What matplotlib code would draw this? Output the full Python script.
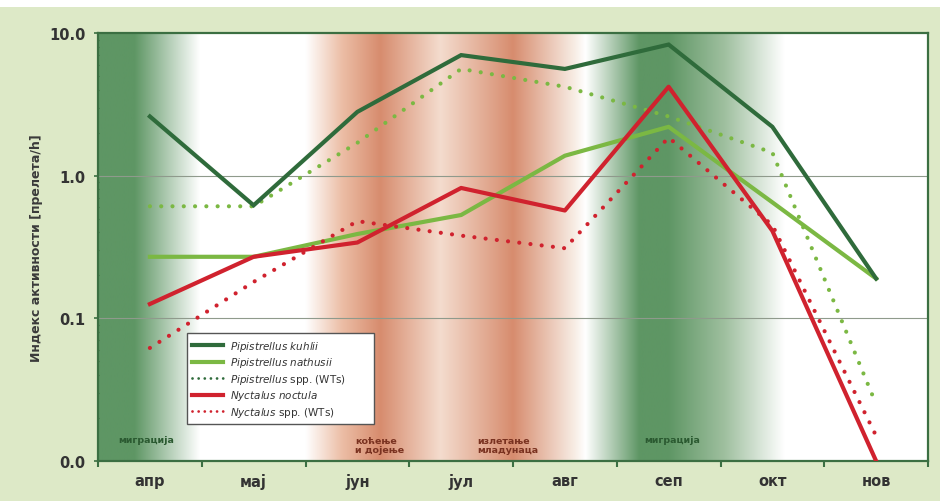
import numpy as np
import matplotlib
matplotlib.use("Agg")
import matplotlib.pyplot as plt
from matplotlib.lines import Line2D

# Monthly activity index (passes per hour), log scale
months = ["апр", "мај", "јун", "јул", "авг", "сеп", "окт", "нов"]
kuhlii = [2.6, 0.62, 2.8, 7.0, 5.6, 8.3, 2.2, 0.19]
nathusii = [0.27, 0.27, 0.39, 0.53, 1.38, 2.2, 0.65, 0.19]
pipistrellus_wts = [0.61, 0.61, 1.7, 5.6, 4.2, 2.6, 1.45, 0.025]
noctula = [0.126, 0.27, 0.34, 0.82, 0.57, 4.2, 0.41, 0.01]
nyctalus_wts = [0.062, 0.18, 0.48, 0.38, 0.31, 1.85, 0.45, 0.015]

y_ticks = [0.01, 0.1, 1, 10]
y_ticklabels = ["0.0", "0.1", "1.0", "10.0"]

plt.rcParams["font.family"] = ["DejaVu Sans"]

BG = "#dde9c7"
FRAME = "#3b6f42"
DARK_GREEN = "#2f6b3b"
LIGHT_GREEN = "#7bb843"
RED = "#d0222e"
TEXT = "#333333"

fig = plt.figure(figsize=(9.4, 5.02), dpi=100, facecolor=BG)
# thin white strip along the top edge
fig.patches.append(plt.Rectangle((0, 1 - 8 / 502), 1, 8 / 502, transform=fig.transFigure,
                                 facecolor="white", edgecolor="none", zorder=0))

ax = fig.add_axes([98 / 940, 1 - 462 / 502, 830 / 940, 428 / 502])
ax.set_facecolor("white")

x = np.arange(len(months))
ax.set_xlim(-0.5, len(months) - 0.5)
ax.set_yscale("log")
ax.set_ylim(0.01, 10)

# seasonal background bands (migration = green, breeding = salmon)
green = np.array([94, 150, 100]) / 255
mid_green = np.array([160, 192, 160]) / 255
white = np.array([255, 255, 255]) / 255
salmon = np.array([215, 140, 110]) / 255
light_salmon = np.array([236, 190, 166]) / 255
pale = np.array([244, 220, 206]) / 255
faint = np.array([248, 238, 230]) / 255
stops = [(-0.5, green), (-0.15, green), (0.48, white), (1.5, white),
         (1.85, light_salmon), (2.22, salmon), (2.8, pale), (3.5, salmon),
         (4.1, faint), (4.2, white), (4.72, green), (5.0, green),
         (5.55, mid_green), (6.12, white), (7.5, white)]
sx = np.array([s[0] for s in stops])
sc = np.array([s[1] for s in stops])
grid_x = np.linspace(-0.5, 7.5, 1200)
img = np.stack([np.interp(grid_x, sx, sc[:, k]) for k in range(3)], axis=-1)[None, :, :]
ax.imshow(img, extent=[0, 1, 0, 1], transform=ax.transAxes, aspect="auto",
          interpolation="bilinear", zorder=0)

# horizontal grid lines at the decades
for v in (0.1, 1):
    ax.axhline(v, color="#8f9a8c", lw=0.8, zorder=1)

lw = 3.0
dot = (0, (0.01, 2.7))
ax.plot(x, kuhlii, color=DARK_GREEN, lw=lw, solid_joinstyle="miter", zorder=4)
ax.plot(x, nathusii, color=LIGHT_GREEN, lw=lw, zorder=3)
ax.plot(x, pipistrellus_wts, color=LIGHT_GREEN, lw=lw, linestyle=dot,
        dash_capstyle="round", zorder=3)
ax.plot(x, noctula, color=RED, lw=lw, zorder=5)
ax.plot(x, nyctalus_wts, color=RED, lw=lw, linestyle=dot,
        dash_capstyle="round", zorder=5)

# axes styling
for sp in ax.spines.values():
    sp.set_color(FRAME)
    sp.set_linewidth(1.6)
ax.set_xticks(x)
ax.set_xticklabels(months, fontsize=10.5, fontweight="bold", color=TEXT)
ax.set_xticks(np.arange(-0.5, len(months)), minor=True)
ax.tick_params(axis="x", which="major", length=0, pad=9)
ax.tick_params(axis="x", which="minor", length=4, width=1.5, color=FRAME, direction="out")
ax.set_yticks(y_ticks)
ax.set_yticklabels(y_ticklabels, fontsize=10.5, fontweight="bold", color=TEXT)
ax.tick_params(axis="y", which="major", length=3, width=1.2, color=FRAME, pad=6)
ax.tick_params(axis="y", which="minor", length=2, width=0.8, color=FRAME, direction="inout")
ax.set_ylabel("Индекс активности [прелета/h]", fontsize=9, color="#3a3a3a",
              fontweight="semibold")
ax.yaxis.set_label_coords(-0.066, 0.5)

# season annotations
ann = dict(transform=ax.get_xaxis_transform(), fontsize=6.8, fontweight="semibold")
ax.text(-0.04, 0.051, "миграција", color="#2b5a31", ha="center", va="center", **ann)
ax.text(5.03, 0.051, "миграција", color="#2b5a31", ha="center", va="center", **ann)
ax.text(1.98, 0.037, "коћење\nи дојење", color="#7a3220", ha="left", va="center",
        linespacing=1.05, **ann)
ax.text(3.16, 0.037, "излетање\nмладунаца", color="#7a3220", ha="left", va="center",
        linespacing=1.05, **ann)

# legend
handles = [
    Line2D([], [], color=DARK_GREEN, lw=lw),
    Line2D([], [], color=LIGHT_GREEN, lw=lw),
    Line2D([], [], color=DARK_GREEN, lw=2, linestyle=(0, (0.01, 2.2)), dash_capstyle="round"),
    Line2D([], [], color=RED, lw=lw),
    Line2D([], [], color=RED, lw=2, linestyle=(0, (0.01, 2.2)), dash_capstyle="round"),
]
labels = [
    r"$\it{Pipistrellus\ kuhlii}$",
    r"$\it{Pipistrellus\ nathusii}$",
    r"$\it{Pipistrellus}$ spp. (WTs)",
    r"$\it{Nyctalus\ noctula}$",
    r"$\it{Nyctalus}$ spp. (WTs)",
]
leg = ax.legend(handles, labels, loc="lower left",
                bbox_to_anchor=(0.107, 0.086, 0.226, 0.206), mode="expand",
                borderaxespad=0, fontsize=7.5, frameon=True, fancybox=False,
                borderpad=0.5, labelspacing=0.25, handlelength=3.0, handletextpad=0.6)
leg.get_frame().set_edgecolor("#555555")
leg.get_frame().set_linewidth(1.0)
leg.get_frame().set_facecolor("white")
leg.get_frame().set_alpha(1)
for t in leg.get_texts():
    t.set_color(TEXT)
leg.set_zorder(10)

fig.savefig("out.png", dpi=100, facecolor=BG)
